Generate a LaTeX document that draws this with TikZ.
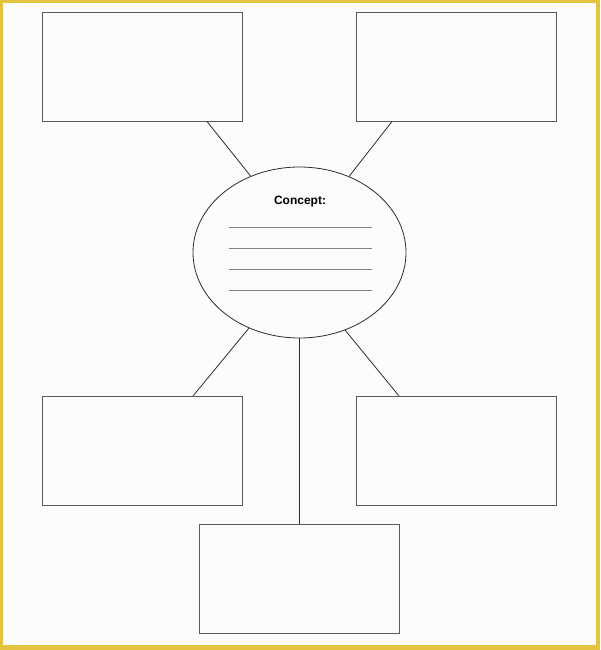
\documentclass[tikz,border=0pt]{standalone}
\usepackage{fontspec}
\setmainfont{Liberation Sans}
\usetikzlibrary{shapes.geometric}
\definecolor{frameyellow}{RGB}{228,196,62}
\definecolor{boxgray}{RGB}{90,90,90}
\definecolor{linkgray}{RGB}{45,45,45}
\definecolor{rulegray}{RGB}{130,130,130}
\tikzset{
  leafbox/.style={draw=boxgray, line width=0.9pt, minimum width=200pt, minimum height=109pt, inner sep=0pt},
  link/.style={draw=linkgray, line width=0.8pt},
  writeline/.style={draw=rulegray, line width=0.8pt}
}
\begin{document}
\begin{tikzpicture}[x=1pt,y=-1pt]
\useasboundingbox (0,0) rectangle (600,650);
\fill[frameyellow] (0,0) rectangle (600,650);
\fill[white!99!black] (3,3) rectangle (596,645);
% boxes
\node[leafbox] (tl) at (142,67) {};
\node[leafbox] (tr) at (456,67) {};
\node[leafbox] (bl) at (142,450.5) {};
\node[leafbox] (br) at (456,450.5) {};
\node[leafbox] (bc) at (299,579) {};
% concept ellipse
\node[ellipse, draw=linkgray, line width=0.8pt, minimum width=213pt, minimum height=171pt, inner sep=0pt] (c) at (299.5,252.5) {};
\node[font=\bfseries\fontsize{12}{14}\selectfont] (title) at (300,201.5) {Concept:};
% writing lines
\coordinate (l1a) at (229,227); \coordinate (l1b) at (372,227);
\coordinate (l2a) at (229,248); \coordinate (l2b) at (372,248);
\coordinate (l3a) at (229,269); \coordinate (l3b) at (372,269);
\coordinate (l4a) at (229,290); \coordinate (l4b) at (372,290);
\draw[writeline] (l1a) -- (l1b);
\draw[writeline] (l2a) -- (l2b);
\draw[writeline] (l3a) -- (l3b);
\draw[writeline] (l4a) -- (l4b);
% connectors
\coordinate (tlA) at (207,121.5); \coordinate (cTL) at (251,176.5);
\coordinate (trA) at (392,121.5); \coordinate (cTR) at (349,176.5);
\coordinate (blA) at (193,396); \coordinate (cBL) at (249,328);
\coordinate (brA) at (399,396); \coordinate (cBR) at (345,330);
\draw[link] (tlA) -- (cTL);
\draw[link] (trA) -- (cTR);
\draw[link] (cBL) -- (blA);
\draw[link] (cBR) -- (brA);
\draw[link] (c.south) -- (c.south |- bc.north);
\end{tikzpicture}
\end{document}
